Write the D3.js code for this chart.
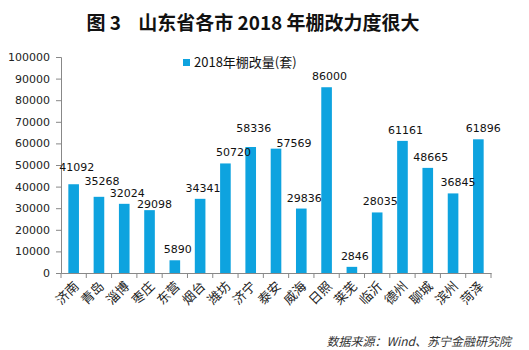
<!DOCTYPE html>
<html lang="zh">
<head>
<meta charset="utf-8">
<script src="https://d3js.org/d3.v7.min.js"></script>
<style>
  body { margin: 0; background: #fff; }
  svg text { font-family: "DejaVu Sans", Verdana, sans-serif; }
  .cjk { font-family: "Noto Sans CJK SC", sans-serif; }
</style>
</head>
<body>
<svg id="chart" width="529" height="350"></svg>
<script>
// city names and 2018 shanty-town renovation counts
var cities = ["济南", "青岛", "淄博", "枣庄", "东营", "烟台", "潍坊", "济宁", "泰安",
              "威海", "日照", "莱芜", "临沂", "德州", "聊城", "滨州", "菏泽"];
var values = [41092, 35268, 32024, 29098, 5890, 34341, 50720, 58336, 57569,
              29836, 86000, 2846, 28035, 61161, 48665, 36845, 61896];
var yTicks = [0, 10000, 20000, 30000, 40000, 50000, 60000, 70000, 80000, 90000, 100000];
// hand-placed label nudges (dx, dy) as in the original
var labelNudge = [[0, -6], [0, -5], [0, 0], [2, 5], [0, 0], [0, 0], [5, 0], [0, -8], [15, 5],
                  [0, 0], [0, 0], [0, 0], [0, 0], [0, 0], [0, 0], [2, 0], [2, 0]];

var svg = d3.select("#chart");
var plotL = 61, plotR = 491, plotT = 57, plotB = 273;
var barColor = "#0ea3df";

var x = d3.scaleBand().domain(cities).range([plotL, plotR]).paddingInner(0.58).paddingOuter(0.29);
var xb = d3.scaleBand().domain(cities).range([plotL, plotR]);
var y = d3.scaleLinear().domain([0, 100000]).range([plotB, plotT]);

// title
svg.append("text")
  .attr("class", "cjk")
  .attr("x", 253).attr("y", 30)
  .attr("text-anchor", "middle")
  .attr("font-size", "19px")
  .attr("font-weight", "bold")
  .attr("fill", "#111")
  .attr("xml:space", "preserve")
  .text("图 3    山东省各市 2018 年棚改力度很大");

// y axis
var yAxis = svg.append("g")
  .attr("transform", "translate(" + plotL + ",0)")
  .call(d3.axisLeft(y).tickValues(yTicks).tickSize(5).tickPadding(6).tickFormat(d3.format("d")));
yAxis.selectAll("text").attr("font-size", "11px").attr("fill", "#222");
yAxis.selectAll("line, path").attr("stroke", "#888");

// x axis
var xAxis = svg.append("g")
  .attr("transform", "translate(0," + plotB + ")")
  .call(d3.axisBottom(xb).tickSize(0).tickFormat(""));
xAxis.select("path").attr("stroke", "#888");
xAxis.selectAll(".tick").remove();
xAxis.selectAll(".sep")
  .data(d3.range(cities.length + 1))
  .enter().append("line")
  .attr("x1", function(i) { return plotL + i * xb.bandwidth(); })
  .attr("x2", function(i) { return plotL + i * xb.bandwidth(); })
  .attr("y1", 0).attr("y2", 5)
  .attr("stroke", "#888");

// city labels
svg.append("g").selectAll("text")
  .data(cities)
  .enter().append("text")
  .attr("class", "cjk")
  .attr("font-size", "13px")
  .attr("fill", "#222")
  .attr("text-anchor", "end")
  .attr("transform", function(d) {
    return "translate(" + (xb(d) + xb.bandwidth() / 2 + 6) + "," + (plotB + 14) + ") rotate(-45)";
  })
  .text(function(d) { return d; });

// bars
svg.append("g").selectAll("rect")
  .data(values)
  .enter().append("rect")
  .attr("x", function(d, i) { return x(cities[i]); })
  .attr("y", function(d) { return y(d); })
  .attr("width", x.bandwidth())
  .attr("height", function(d) { return plotB - y(d); })
  .attr("fill", barColor);

// value labels
svg.append("g").selectAll("text")
  .data(values)
  .enter().append("text")
  .attr("x", function(d, i) { return xb(cities[i]) + xb.bandwidth() / 2 + 3 + labelNudge[i][0]; })
  .attr("y", function(d, i) { return y(d) - 7 + labelNudge[i][1]; })
  .attr("text-anchor", "middle")
  .attr("font-size", "11px")
  .attr("fill", "#111")
  .text(function(d) { return d; });

// legend
svg.append("rect").attr("x", 183).attr("y", 59).attr("width", 7).attr("height", 7).attr("fill", barColor);
svg.append("text")
  .attr("class", "cjk")
  .attr("x", 194).attr("y", 67)
  .attr("font-size", "13px")
  .attr("fill", "#111")
  .text("2018年棚改量(套)");

// source
svg.append("text")
  .attr("class", "cjk")
  .attr("x", 511).attr("y", 346)
  .attr("text-anchor", "end")
  .attr("font-size", "12px")
  .attr("font-style", "italic")
  .attr("fill", "#333")
  .text("数据来源：Wind、苏宁金融研究院");
</script>
</body>
</html>
